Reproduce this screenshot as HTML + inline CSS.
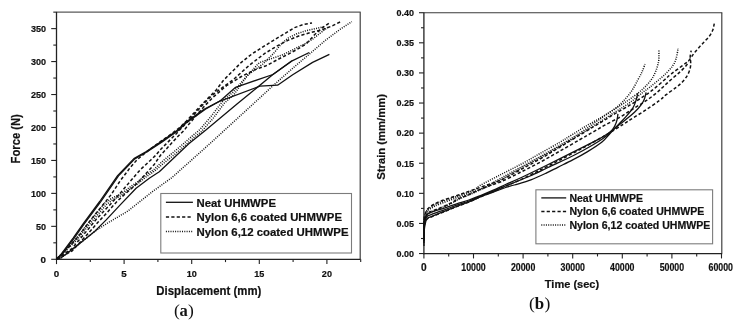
<!DOCTYPE html>
<html><head><meta charset="utf-8"><title>Force-displacement and strain-time curves</title>
<style>
html,body{margin:0;padding:0;background:#fff}
svg{display:block}
text{font-family:"Liberation Sans",Arial,sans-serif;fill:#111}
text.b{font-weight:bold;stroke:#111;stroke-width:0.2}
text.s{font-family:"Liberation Serif","DejaVu Serif",serif;font-weight:normal;fill:#111}
text.sb{font-weight:bold}
.ax{stroke:#222;stroke-width:1.3;fill:none}
.fr{stroke:#3a3a3a;stroke-width:1.15;fill:none}
.fr2{stroke:#5a5a5a;stroke-width:1.1;fill:none}
.tk{stroke:#222;stroke-width:1.1;fill:none}
.lg{stroke:#7c7c7c;stroke-width:1.1;fill:#fff}
.so{stroke:#111;stroke-width:1.3;fill:none;stroke-linejoin:round}
.da{stroke:#111;stroke-width:1.5;fill:none;stroke-dasharray:3.2 2.2;stroke-linejoin:round}
.do{stroke:#111;stroke-width:1.5;fill:none;stroke-dasharray:1.0 1.3;stroke-linejoin:round}
</style></head><body>
<svg width="737" height="327" viewBox="0 0 737 327">
<rect width="737" height="327" fill="#fff"/>
<line class="fr2" x1="56.50" y1="12.15" x2="360.70" y2="12.15"/>
<line class="fr" x1="360.20" y1="12.15" x2="360.20" y2="259.30"/>
<line class="ax" x1="56.50" y1="11.85" x2="56.50" y2="259.90"/>
<line class="ax" x1="55.90" y1="259.30" x2="360.60" y2="259.30"/>
<line class="tk" x1="51.20" y1="259.30" x2="56.50" y2="259.30"/>
<text class="b" x="46.0" y="262.8" font-size="9.80" text-anchor="end">0</text>
<line class="tk" x1="53.30" y1="242.82" x2="56.50" y2="242.82"/>
<line class="tk" x1="51.20" y1="226.35" x2="56.50" y2="226.35"/>
<text class="b" x="46.0" y="229.8" font-size="9.80" text-anchor="end" textLength="10.1" lengthAdjust="spacingAndGlyphs">50</text>
<line class="tk" x1="53.30" y1="209.87" x2="56.50" y2="209.87"/>
<line class="tk" x1="51.20" y1="193.39" x2="56.50" y2="193.39"/>
<text class="b" x="46.0" y="196.9" font-size="9.80" text-anchor="end" textLength="15.1" lengthAdjust="spacingAndGlyphs">100</text>
<line class="tk" x1="53.30" y1="176.91" x2="56.50" y2="176.91"/>
<line class="tk" x1="51.20" y1="160.44" x2="56.50" y2="160.44"/>
<text class="b" x="46.0" y="163.9" font-size="9.80" text-anchor="end" textLength="15.1" lengthAdjust="spacingAndGlyphs">150</text>
<line class="tk" x1="53.30" y1="143.96" x2="56.50" y2="143.96"/>
<line class="tk" x1="51.20" y1="127.48" x2="56.50" y2="127.48"/>
<text class="b" x="46.0" y="131.0" font-size="9.80" text-anchor="end" textLength="15.1" lengthAdjust="spacingAndGlyphs">200</text>
<line class="tk" x1="53.30" y1="111.00" x2="56.50" y2="111.00"/>
<line class="tk" x1="51.20" y1="94.53" x2="56.50" y2="94.53"/>
<text class="b" x="46.0" y="98.0" font-size="9.80" text-anchor="end" textLength="15.1" lengthAdjust="spacingAndGlyphs">250</text>
<line class="tk" x1="53.30" y1="78.05" x2="56.50" y2="78.05"/>
<line class="tk" x1="51.20" y1="61.57" x2="56.50" y2="61.57"/>
<text class="b" x="46.0" y="65.1" font-size="9.80" text-anchor="end" textLength="15.1" lengthAdjust="spacingAndGlyphs">300</text>
<line class="tk" x1="53.30" y1="45.09" x2="56.50" y2="45.09"/>
<line class="tk" x1="51.20" y1="28.62" x2="56.50" y2="28.62"/>
<text class="b" x="46.0" y="32.1" font-size="9.80" text-anchor="end" textLength="15.1" lengthAdjust="spacingAndGlyphs">350</text>
<line class="tk" x1="53.30" y1="12.14" x2="56.50" y2="12.14"/>
<line class="tk" x1="56.50" y1="259.30" x2="56.50" y2="264.10"/>
<text class="b" x="56.5" y="277.4" font-size="9.80" text-anchor="middle">0</text>
<line class="tk" x1="90.30" y1="259.30" x2="90.30" y2="262.10"/>
<line class="tk" x1="124.10" y1="259.30" x2="124.10" y2="264.10"/>
<text class="b" x="124.1" y="277.4" font-size="9.80" text-anchor="middle">5</text>
<line class="tk" x1="157.90" y1="259.30" x2="157.90" y2="262.10"/>
<line class="tk" x1="191.70" y1="259.30" x2="191.70" y2="264.10"/>
<text class="b" x="191.7" y="277.4" font-size="9.80" text-anchor="middle" textLength="10.1" lengthAdjust="spacingAndGlyphs">10</text>
<line class="tk" x1="225.50" y1="259.30" x2="225.50" y2="262.10"/>
<line class="tk" x1="259.30" y1="259.30" x2="259.30" y2="264.10"/>
<text class="b" x="259.3" y="277.4" font-size="9.80" text-anchor="middle" textLength="10.1" lengthAdjust="spacingAndGlyphs">15</text>
<line class="tk" x1="293.10" y1="259.30" x2="293.10" y2="262.10"/>
<line class="tk" x1="326.90" y1="259.30" x2="326.90" y2="264.10"/>
<text class="b" x="326.9" y="277.4" font-size="9.80" text-anchor="middle" textLength="10.1" lengthAdjust="spacingAndGlyphs">20</text>
<line class="tk" x1="360.70" y1="259.30" x2="360.70" y2="262.10"/>
<text class="b" x="208.8" y="294.7" font-size="11.90" text-anchor="middle" textLength="105.0" lengthAdjust="spacingAndGlyphs">Displacement (mm)</text>
<text class="b" x="19.7" y="138.8" font-size="12.10" text-anchor="middle" textLength="49.3" lengthAdjust="spacingAndGlyphs" transform="rotate(-90 19.7 138.8)">Force (N)</text>
<polyline class="so" points="56.6,259.0 61.0,254.5 73.1,238.1 83.1,223.8 99.7,201.5 117.6,175.6 133.9,158.6 146.3,151.5 161.2,141.6 177.7,130.0 184.6,123.1 204.5,109.0 219.4,101.3 221.5,99.7 235.6,87.3 272.9,74.5 291.6,61.2 309.3,52.5"/>
<polyline class="so" points="56.6,259.0 61.9,254.8 74.0,238.4 84.0,224.1 100.6,201.8 118.5,175.9 134.8,158.9 147.2,151.8 162.1,141.9 178.6,130.3 185.5,123.4 205.4,109.3 219.4,101.3 259.9,86.2 277.6,85.2 292.7,74.8 312.6,62.4 329.4,54.4"/>
<polyline class="so" points="56.6,259.0 61.5,257.6 78.1,244.8 94.6,231.5 106.2,219.9 119.5,205.6 136.1,188.2 149.3,178.3 159.3,171.7 188.8,143.8 205.9,130.0 237.3,103.8 252.0,91.8 272.9,74.5 291.9,60.8"/>
<polyline class="da" points="56.6,259.0 70.0,246.0 81.2,233.0 87.3,224.4 95.9,213.4 102.0,206.1 111.3,194.4 120.0,181.1 130.3,167.4 137.1,159.7 145.7,152.6 159.5,142.2 171.3,134.0 180.4,127.0 186.5,121.0 201.8,104.5 216.2,90.0 223.3,80.5 241.4,62.3 251.6,54.2 261.5,47.8 273.1,40.6 284.7,33.6 294.6,27.6 303.0,24.6 312.0,22.9"/>
<polyline class="da" points="56.6,259.0 72.0,248.5 88.6,228.7 97.1,218.3 106.3,208.6 112.1,202.5 119.5,194.0 125.0,187.5 130.5,181.0 140.5,169.5 150.8,160.0 155.5,155.5 160.1,150.0 165.6,144.4 171.1,138.9 176.0,134.0 181.5,128.0 186.5,123.0 196.3,112.0 204.9,102.5 210.0,97.5 216.2,92.0 233.1,79.8 249.7,64.9 264.8,53.4 276.4,46.4 288.0,40.3 299.6,35.7 311.2,32.4 322.8,29.5 332.7,25.7 340.2,21.9"/>
<polyline class="da" points="56.6,259.0 72.0,251.0 88.6,233.0 97.7,222.6 107.5,212.2 112.4,206.5 117.2,201.2 124.6,194.4 133.1,187.1 140.0,180.3 146.0,173.5 154.0,164.8 160.7,155.0 166.8,148.5 171.7,143.0 177.8,136.5 184.0,130.5 187.0,126.5 197.0,114.5 205.5,105.0 213.4,97.0 226.5,85.6 241.4,76.5 254.6,69.9 266.2,65.7 279.7,58.5 289.7,53.4 297.9,48.9 306.2,43.9 314.5,34.8 322.8,27.4 329.8,22.6"/>
<polyline class="do" points="56.6,259.0 61.5,257.6 78.1,244.8 94.6,231.5 106.3,223.8 127.7,211.2 152.6,191.5 172.0,177.5 209.5,144.0 252.6,104.5 273.2,85.5 294.6,66.6 312.6,51.4 326.1,39.8 339.3,29.9 351.8,21.6"/>
<polyline class="do" points="56.6,259.0 75.0,240.0 90.0,221.0 100.0,209.0 105.1,202.8 112.1,198.0 120.9,194.0 129.4,187.5 138.0,181.5 145.3,175.5 153.9,169.5 162.8,161.0 173.1,152.5 184.2,143.0 192.8,135.5 200.0,129.5 211.0,116.5 223.2,100.5 232.6,92.5 248.0,74.8 262.9,64.0 273.1,53.9 281.4,43.9 288.0,38.1 296.3,34.0 306.2,30.7 316.2,28.5 324.4,26.6"/>
<polyline class="do" points="56.6,259.0 76.0,241.0 91.0,222.5 101.0,211.0 106.5,204.5 113.0,199.6 121.5,195.5 130.0,189.0 138.6,183.0 146.0,177.0 154.6,171.0 164.0,163.0 174.5,154.5 185.5,145.0 194.0,137.5 201.5,131.5 213.0,118.5 224.5,103.0 234.0,94.5 246.7,76.5 259.2,62.7 273.1,58.0 283.0,54.7 294.6,48.9 304.6,43.9 312.8,39.0 321.1,32.4 327.7,27.4"/>
<rect class="lg" x="160.8" y="193.5" width="190.7" height="59.5"/>
<line class="so" x1="165.90" y1="202.30" x2="192.90" y2="202.30"/>
<text class="b" x="196.5" y="206.6" font-size="10.50" textLength="79.5" lengthAdjust="spacingAndGlyphs">Neat UHMWPE</text>
<line class="da" x1="165.90" y1="216.95" x2="192.90" y2="216.95"/>
<text class="b" x="196.5" y="221.3" font-size="10.50" textLength="145.5" lengthAdjust="spacingAndGlyphs">Nylon 6,6 coated UHMWPE</text>
<line class="do" x1="165.90" y1="231.60" x2="192.90" y2="231.60"/>
<text class="b" x="196.5" y="235.9" font-size="10.50" textLength="152.0" lengthAdjust="spacingAndGlyphs">Nylon 6,12 coated UHMWPE</text>
<text class="s" x="174.0" y="316.2" font-size="17.50">(</text>
<text class="s sb" x="179.5" y="316.1" font-size="16.50">a</text>
<text class="s" x="188.0" y="316.2" font-size="17.50">)</text>
<line class="fr" x1="423.90" y1="12.70" x2="722.30" y2="12.70"/>
<line class="fr" x1="721.80" y1="12.70" x2="721.80" y2="253.55"/>
<line class="ax" x1="423.90" y1="12.40" x2="423.90" y2="254.15"/>
<line class="ax" x1="423.30" y1="253.55" x2="722.20" y2="253.55"/>
<line class="tk" x1="419.00" y1="253.55" x2="423.90" y2="253.55"/>
<text class="b" x="413.9" y="256.9" font-size="9.80" text-anchor="end" textLength="17.5" lengthAdjust="spacingAndGlyphs">0.00</text>
<line class="tk" x1="421.00" y1="238.50" x2="423.90" y2="238.50"/>
<line class="tk" x1="419.00" y1="223.44" x2="423.90" y2="223.44"/>
<text class="b" x="413.9" y="226.7" font-size="9.80" text-anchor="end" textLength="17.5" lengthAdjust="spacingAndGlyphs">0.05</text>
<line class="tk" x1="421.00" y1="208.39" x2="423.90" y2="208.39"/>
<line class="tk" x1="419.00" y1="193.34" x2="423.90" y2="193.34"/>
<text class="b" x="413.9" y="196.6" font-size="9.80" text-anchor="end" textLength="17.5" lengthAdjust="spacingAndGlyphs">0.10</text>
<line class="tk" x1="421.00" y1="178.29" x2="423.90" y2="178.29"/>
<line class="tk" x1="419.00" y1="163.24" x2="423.90" y2="163.24"/>
<text class="b" x="413.9" y="166.5" font-size="9.80" text-anchor="end" textLength="17.5" lengthAdjust="spacingAndGlyphs">0.15</text>
<line class="tk" x1="421.00" y1="148.18" x2="423.90" y2="148.18"/>
<line class="tk" x1="419.00" y1="133.13" x2="423.90" y2="133.13"/>
<text class="b" x="413.9" y="136.4" font-size="9.80" text-anchor="end" textLength="17.5" lengthAdjust="spacingAndGlyphs">0.20</text>
<line class="tk" x1="421.00" y1="118.08" x2="423.90" y2="118.08"/>
<line class="tk" x1="419.00" y1="103.03" x2="423.90" y2="103.03"/>
<text class="b" x="413.9" y="106.3" font-size="9.80" text-anchor="end" textLength="17.5" lengthAdjust="spacingAndGlyphs">0.25</text>
<line class="tk" x1="421.00" y1="87.97" x2="423.90" y2="87.97"/>
<line class="tk" x1="419.00" y1="72.92" x2="423.90" y2="72.92"/>
<text class="b" x="413.9" y="76.2" font-size="9.80" text-anchor="end" textLength="17.5" lengthAdjust="spacingAndGlyphs">0.30</text>
<line class="tk" x1="421.00" y1="57.87" x2="423.90" y2="57.87"/>
<line class="tk" x1="419.00" y1="42.81" x2="423.90" y2="42.81"/>
<text class="b" x="413.9" y="46.1" font-size="9.80" text-anchor="end" textLength="17.5" lengthAdjust="spacingAndGlyphs">0.35</text>
<line class="tk" x1="421.00" y1="27.76" x2="423.90" y2="27.76"/>
<line class="tk" x1="419.00" y1="12.71" x2="423.90" y2="12.71"/>
<text class="b" x="413.9" y="16.0" font-size="9.80" text-anchor="end" textLength="17.5" lengthAdjust="spacingAndGlyphs">0.40</text>
<line class="tk" x1="423.90" y1="253.55" x2="423.90" y2="258.45"/>
<text class="b" x="423.9" y="271.0" font-size="10.10" text-anchor="middle">0</text>
<line class="tk" x1="448.70" y1="253.55" x2="448.70" y2="256.45"/>
<line class="tk" x1="473.50" y1="253.55" x2="473.50" y2="258.45"/>
<text class="b" x="473.5" y="271.0" font-size="10.10" text-anchor="middle" textLength="24.4" lengthAdjust="spacingAndGlyphs">10000</text>
<line class="tk" x1="498.30" y1="253.55" x2="498.30" y2="256.45"/>
<line class="tk" x1="523.10" y1="253.55" x2="523.10" y2="258.45"/>
<text class="b" x="523.1" y="271.0" font-size="10.10" text-anchor="middle" textLength="24.4" lengthAdjust="spacingAndGlyphs">20000</text>
<line class="tk" x1="547.90" y1="253.55" x2="547.90" y2="256.45"/>
<line class="tk" x1="572.70" y1="253.55" x2="572.70" y2="258.45"/>
<text class="b" x="572.7" y="271.0" font-size="10.10" text-anchor="middle" textLength="24.4" lengthAdjust="spacingAndGlyphs">30000</text>
<line class="tk" x1="597.50" y1="253.55" x2="597.50" y2="256.45"/>
<line class="tk" x1="622.30" y1="253.55" x2="622.30" y2="258.45"/>
<text class="b" x="622.3" y="271.0" font-size="10.10" text-anchor="middle" textLength="24.4" lengthAdjust="spacingAndGlyphs">40000</text>
<line class="tk" x1="647.10" y1="253.55" x2="647.10" y2="256.45"/>
<line class="tk" x1="671.90" y1="253.55" x2="671.90" y2="258.45"/>
<text class="b" x="671.9" y="271.0" font-size="10.10" text-anchor="middle" textLength="24.4" lengthAdjust="spacingAndGlyphs">50000</text>
<line class="tk" x1="696.70" y1="253.55" x2="696.70" y2="256.45"/>
<line class="tk" x1="721.50" y1="253.55" x2="721.50" y2="258.45"/>
<text class="b" x="720.7" y="271.0" font-size="10.10" text-anchor="middle" textLength="24.4" lengthAdjust="spacingAndGlyphs">60000</text>
<text class="b" x="572.0" y="288.4" font-size="11.20" text-anchor="middle" textLength="54.3" lengthAdjust="spacingAndGlyphs">Time (sec)</text>
<text class="b" x="385.3" y="136.9" font-size="11.20" text-anchor="middle" textLength="85.6" lengthAdjust="spacingAndGlyphs" transform="rotate(-90 385.3 136.9)">Strain (mm/mm)</text>
<path class="so" d="M424.0,240.0 C424.0,237.7 423.7,230.0 424.1,226.0 C424.4,222.0 424.7,218.1 426.1,215.8 C427.5,213.5 429.1,213.3 432.2,212.0 C435.2,210.7 440.3,209.5 444.4,208.1 C448.5,206.7 452.6,205.2 456.7,203.8 C460.8,202.5 464.8,201.4 468.9,200.0 C473.0,198.6 477.0,196.9 481.1,195.3 C485.2,193.7 489.2,192.0 493.3,190.2 C497.4,188.4 500.9,186.6 505.6,184.5 C510.3,182.4 514.6,180.7 521.4,177.5 C528.2,174.3 537.9,169.6 546.2,165.5 C554.5,161.4 562.7,157.3 571.0,153.2 C579.3,149.1 590.0,143.8 595.9,140.7 C601.8,137.6 603.0,136.8 606.4,134.5 C609.8,132.2 613.0,129.6 616.3,127.0 C619.6,124.5 623.2,121.7 626.2,119.2 C629.2,116.8 632.0,114.7 634.5,112.3 C637.0,109.9 639.5,107.0 641.1,104.8 C642.8,102.6 643.6,101.1 644.4,99.0 C645.2,96.9 645.8,93.5 646.1,92.4"/>
<path class="so" d="M424.0,246.0 C424.0,243.7 423.6,236.4 424.1,232.0 C424.5,227.6 425.2,222.1 426.6,219.5 C428.0,216.9 429.2,217.7 432.2,216.3 C435.2,215.0 440.3,213.0 444.4,211.4 C448.5,209.8 452.6,208.1 456.7,206.5 C460.8,204.9 464.8,203.6 468.9,202.0 C473.0,200.4 477.0,198.3 481.1,196.7 C485.2,195.1 489.2,193.7 493.3,192.2 C497.4,190.7 502.1,188.7 505.6,187.5 C509.1,186.3 510.1,186.3 514.3,185.0 C518.5,183.7 525.6,181.8 530.9,179.8 C536.2,177.8 541.7,175.2 546.2,173.1 C550.7,171.0 553.4,169.5 557.8,167.3 C562.2,165.1 567.7,162.5 572.7,159.9 C577.7,157.3 582.7,154.6 587.6,151.6 C592.5,148.6 598.3,145.0 602.0,142.0 C605.7,139.0 607.2,136.5 610.0,133.5 C612.8,130.5 616.3,126.8 619.0,124.0 C621.7,121.2 623.9,119.1 626.2,116.4 C628.5,113.8 631.1,110.8 632.8,108.1 C634.5,105.3 635.4,102.4 636.2,99.9 C637.0,97.4 637.5,94.3 637.8,93.2"/>
<path class="so" d="M424.0,243.0 C424.0,240.7 423.7,233.2 424.1,229.0 C424.4,224.8 424.9,220.0 426.3,217.5 C427.7,215.0 429.2,215.5 432.2,214.2 C435.2,212.9 440.3,211.3 444.4,209.8 C448.5,208.3 452.6,206.7 456.7,205.2 C460.8,203.7 464.8,202.5 468.9,201.0 C473.0,199.5 477.0,197.6 481.1,196.0 C485.2,194.4 489.2,192.9 493.3,191.2 C497.4,189.5 502.1,187.4 505.6,186.0 C509.1,184.6 510.2,184.2 514.3,182.5 C518.4,180.8 524.4,178.5 530.0,176.0 C535.6,173.5 540.6,171.0 548.0,167.5 C555.4,164.0 567.0,158.8 574.5,155.0 C582.0,151.2 588.0,147.8 592.7,145.0 C597.5,142.2 600.2,140.5 603.0,138.5 C605.8,136.5 607.8,135.0 609.7,133.0 C611.6,131.0 613.4,128.6 614.6,126.4 C615.8,124.2 616.6,121.8 617.1,119.7 C617.6,117.6 617.8,114.9 617.9,113.9"/>
<path class="da" d="M424.0,236.0 C424.0,233.3 423.6,224.2 424.1,220.0 C424.5,215.8 425.3,213.0 426.6,210.6 C427.9,208.2 429.4,207.2 431.6,205.7 C433.8,204.2 435.7,203.2 439.8,201.5 C443.9,199.8 450.9,197.6 456.4,195.7 C461.9,193.8 467.5,191.8 473.0,189.9 C478.5,188.0 484.8,185.8 489.5,184.1 C494.2,182.4 495.9,182.3 501.0,180.0 C506.1,177.7 513.5,173.5 520.0,170.0 C526.5,166.5 533.3,162.8 540.0,159.0 C546.7,155.2 552.5,151.5 560.0,147.0 C567.5,142.5 577.9,136.2 584.8,132.0 C591.7,127.8 596.4,125.0 601.4,122.0 C606.4,119.0 610.5,116.4 614.6,113.9 C618.7,111.5 622.1,109.8 626.2,107.3 C630.4,104.8 635.1,101.9 639.5,99.0 C643.9,96.1 648.6,93.1 652.7,89.9 C656.8,86.7 661.2,82.7 664.3,80.0 C667.4,77.3 668.4,76.2 671.2,74.0 C674.0,71.8 678.2,68.8 681.1,66.6 C684.0,64.4 686.5,62.9 688.6,60.8 C690.7,58.7 691.8,56.2 693.5,54.0 C695.2,51.8 697.2,49.6 699.0,47.5 C700.8,45.4 702.8,43.4 704.5,41.5 C706.2,39.6 708.1,37.9 709.5,36.0 C710.9,34.1 712.0,32.1 712.8,30.0 C713.6,27.9 714.0,24.7 714.3,23.6"/>
<path class="da" d="M424.0,241.0 C424.0,238.7 423.6,230.7 424.1,227.0 C424.6,223.3 425.6,220.8 427.0,219.0 C428.4,217.2 429.3,217.7 432.2,216.5 C435.1,215.3 440.3,213.2 444.4,211.6 C448.5,209.9 452.6,208.2 456.7,206.6 C460.8,205.0 464.8,203.7 468.9,202.0 C473.0,200.3 477.0,198.2 481.1,196.5 C485.2,194.8 489.2,193.2 493.3,191.5 C497.4,189.8 501.2,188.1 505.6,186.2 C510.1,184.3 515.0,182.3 520.0,180.0 C525.0,177.7 531.1,174.5 535.5,172.3 C539.9,170.1 542.4,168.9 546.5,166.8 C550.6,164.8 554.0,163.1 560.0,160.0 C566.0,156.9 575.1,152.2 582.8,148.0 C590.5,143.8 599.3,138.9 606.0,135.0 C612.7,131.1 618.4,127.3 622.9,124.5 C627.4,121.7 628.9,120.5 632.8,118.1 C636.7,115.6 641.7,112.7 646.1,109.8 C650.5,106.9 655.9,103.2 659.3,100.7 C662.6,98.2 663.4,96.9 666.2,94.7 C669.0,92.5 673.4,89.5 676.2,87.3 C679.0,85.1 680.9,83.6 682.8,81.5 C684.7,79.4 686.5,77.0 687.7,74.8 C688.9,72.6 689.7,70.3 690.2,68.2 C690.7,66.1 690.7,64.3 690.7,62.4 C690.7,60.5 690.1,58.6 690.2,56.6 C690.3,54.6 691.0,51.6 691.2,50.6"/>
<path class="da" d="M424.0,238.0 C424.0,235.7 423.6,227.8 424.1,224.0 C424.5,220.2 425.8,216.9 426.6,215.0 C427.4,213.1 426.7,213.5 428.6,212.4 C430.6,211.3 434.6,210.2 438.3,208.7 C442.0,207.2 447.1,204.9 450.6,203.2 C454.1,201.5 456.1,199.9 459.1,198.5 C462.2,197.1 465.6,196.1 468.9,194.7 C472.2,193.3 475.2,191.5 478.7,190.0 C482.2,188.5 486.3,186.9 490.0,185.5 C493.7,184.1 496.0,183.9 501.0,181.7 C506.0,179.5 513.5,175.7 520.0,172.5 C526.5,169.3 533.3,165.9 540.0,162.3 C546.7,158.7 553.3,154.8 560.0,151.0 C566.7,147.2 574.5,142.7 580.0,139.5 C585.5,136.3 589.0,134.4 593.1,132.0 C597.2,129.6 600.3,127.7 604.7,125.2 C609.1,122.8 614.9,120.0 619.6,117.3 C624.3,114.6 628.4,111.8 632.8,109.0 C637.2,106.2 642.1,103.5 646.1,100.7 C650.1,98.0 654.0,95.0 657.0,92.5 C660.0,90.0 661.6,88.2 664.0,86.0 C666.4,83.8 668.6,81.8 671.2,79.5 C673.8,77.2 677.0,74.7 679.5,72.4 C682.0,70.1 684.6,67.5 686.1,65.7 C687.6,63.9 688.2,62.3 688.6,61.6"/>
<path class="do" d="M424.0,238.0 C424.0,235.7 423.6,227.8 424.1,224.0 C424.5,220.2 425.8,217.3 426.6,215.5 C427.4,213.7 426.7,214.0 428.6,212.9 C430.6,211.8 434.6,210.7 438.3,209.2 C442.0,207.7 447.1,205.4 450.6,203.7 C454.1,202.0 456.1,200.4 459.1,199.0 C462.2,197.6 465.6,196.4 468.9,195.0 C472.2,193.6 475.2,192.1 478.7,190.5 C482.2,188.9 485.4,187.8 490.0,185.5 C494.6,183.2 500.0,180.2 506.0,176.8 C512.0,173.4 519.3,169.1 526.0,165.3 C532.7,161.6 539.5,158.0 546.0,154.3 C552.5,150.6 558.8,146.9 565.0,143.3 C571.2,139.7 577.5,135.9 583.0,132.5 C588.5,129.1 593.2,126.1 598.0,123.0 C602.8,119.9 607.7,116.8 612.0,114.0 C616.3,111.2 620.3,108.9 624.0,106.5 C627.7,104.1 630.8,101.9 634.0,99.5 C637.2,97.1 640.4,94.2 643.0,92.2 C645.6,90.2 647.2,89.2 649.7,87.3 C652.2,85.4 655.1,82.9 657.9,80.6 C660.6,78.2 663.7,75.7 666.2,73.2 C668.7,70.7 671.1,68.2 672.8,65.7 C674.5,63.2 675.3,61.2 676.2,58.3 C677.1,55.4 677.8,49.9 678.1,48.2"/>
<path class="do" d="M424.0,237.0 C424.0,234.3 423.6,225.1 424.1,221.0 C424.5,216.9 425.3,214.7 426.6,212.5 C427.9,210.3 429.4,209.4 431.6,208.0 C433.8,206.6 435.7,205.7 439.8,204.0 C443.9,202.3 450.9,200.0 456.4,198.0 C461.9,196.0 468.2,193.8 473.0,192.0 C477.8,190.2 480.0,189.5 485.0,187.0 C490.0,184.5 496.7,180.5 503.0,177.0 C509.3,173.5 516.3,169.7 523.0,166.0 C529.7,162.3 536.5,158.7 543.0,155.0 C549.5,151.3 555.8,147.7 562.0,144.0 C568.2,140.3 574.5,136.6 580.0,133.0 C585.5,129.4 590.0,126.0 595.0,122.5 C600.0,119.0 605.3,115.2 609.7,112.3 C614.1,109.3 617.7,107.1 621.3,104.8 C624.9,102.5 627.6,100.8 631.2,98.2 C634.8,95.6 639.5,92.1 642.8,89.1 C646.1,86.1 649.0,82.7 651.0,80.0 C653.0,77.3 653.9,75.3 655.0,73.0 C656.1,70.7 656.9,68.2 657.5,66.0 C658.1,63.8 658.6,62.7 658.8,59.9 C659.0,57.1 658.9,51.0 658.9,49.2"/>
<path class="do" d="M424.0,236.0 C424.0,233.2 423.6,223.2 424.1,219.0 C424.5,214.8 425.3,213.1 426.6,211.0 C427.9,208.9 429.4,207.9 431.6,206.5 C433.8,205.1 435.7,204.2 439.8,202.5 C443.9,200.8 450.9,198.5 456.4,196.5 C461.9,194.5 469.1,192.3 473.0,190.5 C476.9,188.7 475.5,188.1 480.0,185.5 C484.5,182.9 493.1,178.6 500.0,175.0 C506.9,171.4 514.7,167.6 521.4,164.0 C528.1,160.4 533.6,157.1 540.0,153.5 C546.4,149.9 554.2,145.6 559.5,142.5 C564.8,139.4 567.4,137.6 571.6,135.0 C575.8,132.4 579.8,129.8 584.8,126.8 C589.8,123.8 596.4,120.3 601.4,117.3 C606.4,114.3 611.0,111.6 614.6,109.0 C618.2,106.4 620.1,104.4 622.9,101.5 C625.7,98.6 628.7,95.2 631.2,91.6 C633.7,88.0 636.0,83.3 637.8,80.0 C639.6,76.7 641.0,74.2 642.2,71.5 C643.4,68.8 644.5,65.3 645.0,64.1"/>
<rect class="lg" x="535.9" y="189.8" width="176.7" height="54.0"/>
<line class="so" x1="541.30" y1="197.90" x2="566.20" y2="197.90"/>
<text class="b" x="569.4" y="201.8" font-size="10.50" textLength="73.5" lengthAdjust="spacingAndGlyphs">Neat UHMWPE</text>
<line class="da" x1="541.30" y1="211.50" x2="566.20" y2="211.50"/>
<text class="b" x="569.4" y="215.4" font-size="10.50" textLength="134.9" lengthAdjust="spacingAndGlyphs">Nylon 6,6 coated UHMWPE</text>
<line class="do" x1="541.30" y1="225.10" x2="566.20" y2="225.10"/>
<text class="b" x="569.4" y="229.0" font-size="10.50" textLength="141.0" lengthAdjust="spacingAndGlyphs">Nylon 6,12 coated UHMWPE</text>
<text class="s" x="529.0" y="309.4" font-size="17.60">(</text>
<text class="s sb" x="534.8" y="309.1" font-size="16.90">b</text>
<text class="s" x="544.5" y="309.4" font-size="17.60">)</text>
</svg>
</body></html>
